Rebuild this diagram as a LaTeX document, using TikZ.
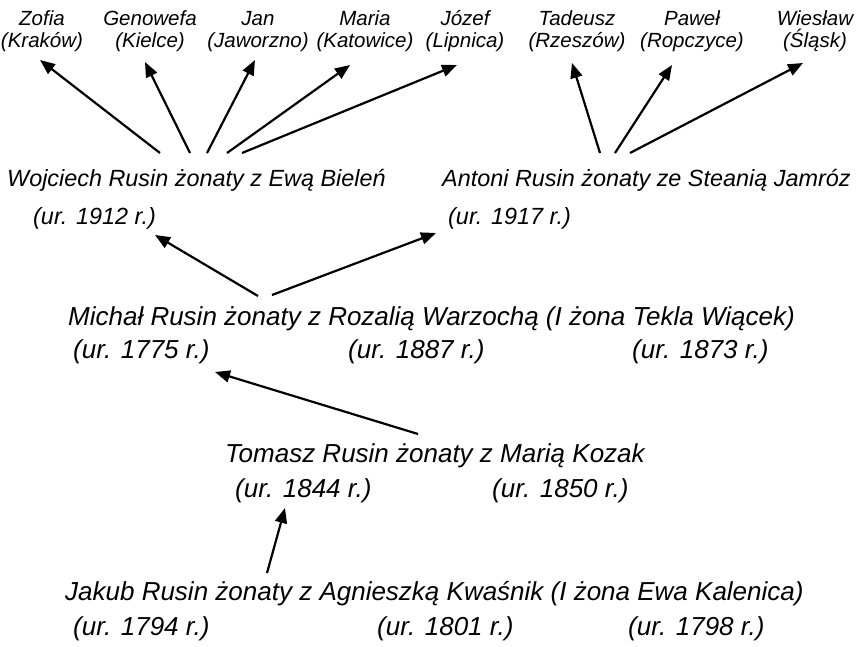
\documentclass[tikz,border=0pt]{standalone}
\usepackage{fontspec}
\setmainfont{Liberation Sans}
\usetikzlibrary{arrows.meta}
\tikzset{
  dziecko/.style={font=\fontsize{20.5}{22}\selectfont\itshape, align=center, inner sep=0pt, anchor=base},
  para/.style={font=\fontsize{23.4}{26}\selectfont\itshape, anchor=base west, inner sep=0pt},
  przodek/.style={font=\fontsize{26}{30}\selectfont\itshape, anchor=base west, inner sep=0pt},
  strz/.style={line width=2.2pt, -{Triangle[length=15pt,width=12pt]}},
}

\begin{document}
\begin{tikzpicture}[x=1pt, y=-1pt]
      \useasboundingbox (0,0) rectangle (863,646);
      % dzieci
      \node[dziecko] (zofia)    at (42, 47)  {Zofia\\(Kraków)};
      \node[dziecko] (genowefa) at (150, 47) {Genowefa\\(Kielce)};
      \node[dziecko] (jan)      at (258, 47) {Jan\\(Jaworzno)};
      \node[dziecko] (maria)    at (365, 47) {Maria\\(Katowice)};
      \node[dziecko] (jozef)    at (465, 47) {Józef\\(Lipnica)};
      \node[dziecko] (tadeusz)  at (577, 47) {Tadeusz\\(Rzeszów)};
      \node[dziecko] (pawel)    at (692, 47) {Paweł\\(Ropczyce)};
      \node[dziecko] (wieslaw)  at (815, 47) {Wiesław\\(Śląsk)};
      % rodzice
      \node[para] (wojciech) at (7, 186)   {Wojciech Rusin żonaty z Ewą Bieleń};
      \node[para] (w-ur)     at (33, 224)  {(ur. 1912 r.)};
      \node[para] (antoni)   at (442, 186) {Antoni Rusin żonaty ze Steanią Jamróz};
      \node[para] (a-ur)     at (448, 224) {(ur. 1917 r.)};
      % przodkowie
      \node[przodek] (michal) at (68, 325)  {Michał Rusin żonaty z Rozalią Warzochą (I żona Tekla Wiącek)};
      \node[przodek] (m-ur1)  at (73, 358)  {(ur. 1775 r.)};
      \node[przodek] (m-ur2)  at (348, 358) {(ur. 1887 r.)};
      \node[przodek] (m-ur3)  at (632, 358) {(ur. 1873 r.)};
      \node[przodek] (tomasz) at (225, 462) {Tomasz Rusin żonaty z Marią Kozak};
      \node[przodek] (t-ur1)  at (235, 497) {(ur. 1844 r.)};
      \node[przodek] (t-ur2)  at (492, 497) {(ur. 1850 r.)};
      \node[przodek] (jakub)  at (65, 600)  {Jakub Rusin żonaty z Agnieszką Kwaśnik (I żona Ewa Kalenica)};
      \node[przodek] (j-ur1)  at (73, 635)  {(ur. 1794 r.)};
      \node[przodek] (j-ur2)  at (377, 635) {(ur. 1801 r.)};
      \node[przodek] (j-ur3)  at (628, 635) {(ur. 1798 r.)};
      % punkty strzalek
      \coordinate (w1) at (160, 153); \coordinate (zofia-s)    at (40, 60);
      \coordinate (w2) at (190, 153); \coordinate (genowefa-s) at (145, 62);
      \coordinate (w3) at (207, 153); \coordinate (jan-s)      at (255, 60);
      \coordinate (w4) at (227, 153); \coordinate (maria-s)    at (350, 65);
      \coordinate (w5) at (242, 153); \coordinate (jozef-s)    at (457, 65);
      \coordinate (a1) at (600, 153); \coordinate (tadeusz-s)  at (572, 63);
      \coordinate (a2) at (615, 153); \coordinate (pawel-s)    at (672, 65);
      \coordinate (a3) at (630, 153); \coordinate (wieslaw-s)  at (803, 63);
      \coordinate (m1) at (258, 296); \coordinate (w-ur-s)     at (155, 235);
      \coordinate (m2) at (272, 295); \coordinate (a-ur-s)     at (436, 233);
      \coordinate (t1) at (418, 434); \coordinate (m-ur1-s)    at (215, 372);
      \coordinate (j1) at (267, 573); \coordinate (t-ur1-s)    at (285, 508);
      % strzalki
      \draw[strz] (w1) -- (zofia-s);
      \draw[strz] (w2) -- (genowefa-s);
      \draw[strz] (w3) -- (jan-s);
      \draw[strz] (w4) -- (maria-s);
      \draw[strz] (w5) -- (jozef-s);
      \draw[strz] (a1) -- (tadeusz-s);
      \draw[strz] (a2) -- (pawel-s);
      \draw[strz] (a3) -- (wieslaw-s);
      \draw[strz] (m1) -- (w-ur-s);
      \draw[strz] (m2) -- (a-ur-s);
      \draw[strz] (t1) -- (m-ur1-s);
      \draw[strz] (j1) -- (t-ur1-s);
    \end{tikzpicture}
\end{document}
